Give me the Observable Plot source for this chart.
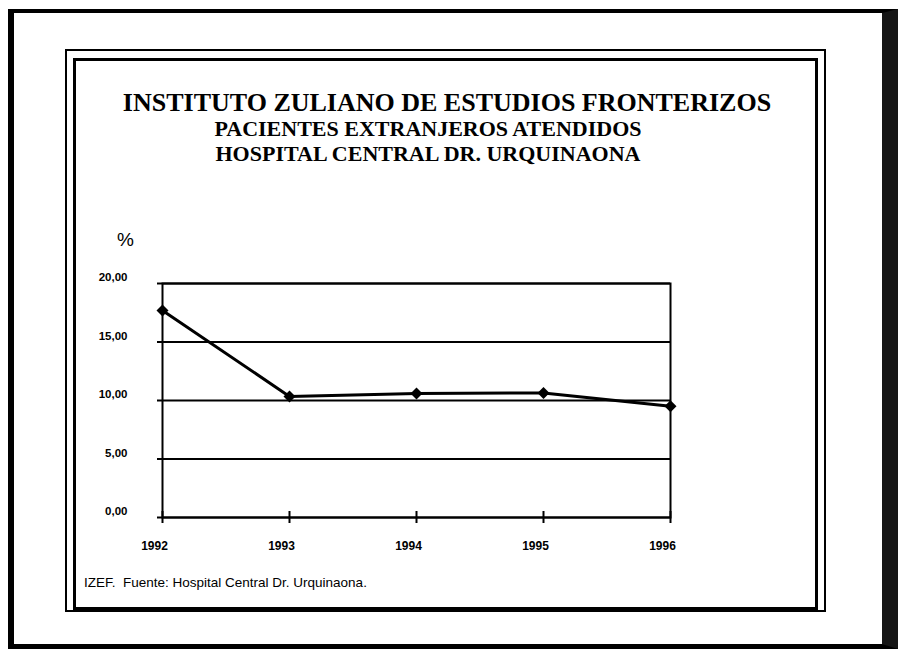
<!DOCTYPE html>
<html>
<head>
<meta charset="utf-8">
<script src="https://cdn.jsdelivr.net/npm/d3@7"></script>
<script src="https://cdn.jsdelivr.net/npm/@observablehq/plot@0.6"></script>
<style>
  html, body { margin: 0; padding: 0; background: #fff; }
  #page { position: relative; width: 898px; height: 653px; overflow: hidden; background: #fff; }
  .box { position: absolute; box-sizing: border-box; border-style: solid; border-color: #000; }
  .t { position: absolute; white-space: pre; color: #000; line-height: 1; }
  .title { font-family: "Liberation Serif", "Times New Roman", serif; text-align: center; width: 700px; font-weight: bold; }
  #chart { position: absolute; left: 0; top: 0; }
</style>
</head>
<body>
<div id="page">
  <div class="box" style="left:8px;top:9px;width:890px;height:640px;border-width:4px 16px 5px 6px;border-right-color:#161616;"></div>
  <div class="box" style="left:65px;top:49px;width:761px;height:563px;border-width:2px;"></div>
  <div class="box" style="left:73px;top:58px;width:745px;height:552px;border-width:3px;"></div>
  <div class="t title" id="t1" style="left:97px;top:90px;font-size:26px;"></div>
  <div class="t title" id="t2" style="left:78px;top:118px;font-size:22px;"></div>
  <div class="t title" id="t3" style="left:78px;top:143px;font-size:22px;"></div>
  <div class="t" id="unit" style="left:117px;top:230px;font-family:'Liberation Sans',Arial,sans-serif;font-size:19px;"></div>
  <div class="t" id="cap" style="left:84px;top:576px;font-family:'Liberation Sans',Arial,sans-serif;font-size:13.5px;"></div>
  <div id="chart"></div>
</div>
<script>
const titleLines = ["INSTITUTO ZULIANO DE ESTUDIOS FRONTERIZOS", "PACIENTES EXTRANJEROS ATENDIDOS", "HOSPITAL CENTRAL DR. URQUINAONA"];
const unitLabel = "%";
const caption = "IZEF.  Fuente: Hospital Central Dr. Urquinaona.";
const years = [1992, 1993, 1994, 1995, 1996];
const percentages = [17.7, 10.35, 10.6, 10.65, 9.5];
const yTicks = [0, 5, 10, 15, 20];

document.getElementById("t1").textContent = titleLines[0];
document.getElementById("t2").textContent = titleLines[1];
document.getElementById("t3").textContent = titleLines[2];
document.getElementById("unit").textContent = unitLabel;
document.getElementById("cap").textContent = caption;

const data = years.map((year, i) => ({year, value: percentages[i]}));
const fmt = d => d.toFixed(2).replace(".", ",");

const chart = Plot.plot({
  width: 898,
  height: 653,
  marginLeft: 162,
  marginRight: 228,
  marginTop: 283,
  marginBottom: 136,
  style: {background: "none", fontFamily: "'Liberation Sans', Arial, sans-serif", color: "#000"},
  x: {domain: [1992, 1996]},
  y: {domain: [0, 20]},
  marks: [
    Plot.ruleY(yTicks, {stroke: "#000", strokeWidth: 2}),
    Plot.frame({stroke: "#000", strokeWidth: 2}),
    // tick marks
    Plot.axisY({ticks: yTicks, tickSize: 5, tickFormat: () => "", strokeWidth: 2, label: null}),
    Plot.axisX({ticks: years, tickSize: 6, tickFormat: () => "", strokeWidth: 2, label: null}),
    Plot.axisX({ticks: years, tickSize: -6, tickFormat: () => "", strokeWidth: 2, label: null}),
    // tick labels
    Plot.axisY({ticks: yTicks, tickSize: 0, tickPadding: 35, tickFormat: fmt, dy: -6, fontSize: 11.5, fontWeight: "bold", label: null}),
    Plot.axisX({ticks: years, tickSize: 0, tickPadding: 24, tickFormat: d => String(d), dx: -8, fontSize: 12, fontWeight: "bold", label: null}),
    Plot.line(data, {x: "year", y: "value", stroke: "#000", strokeWidth: 3}),
    Plot.dot(data, {x: "year", y: "value", symbol: "diamond2", r: 5.4, fill: "#000", stroke: "none"})
  ]
});
document.getElementById("chart").appendChild(chart);
</script>
</body>
</html>
